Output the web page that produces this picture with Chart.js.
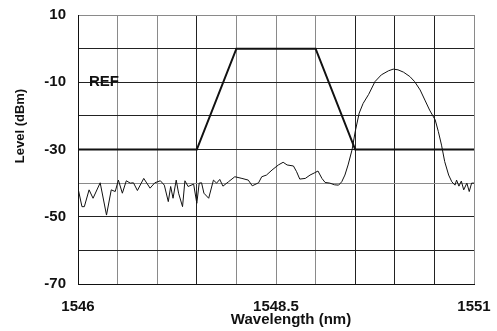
<!DOCTYPE html>
<html lang="en">
<head>
  <meta charset="UTF-8">
  <title>Filter spectrum</title>
  <script src="https://cdn.jsdelivr.net/npm/chart.js"></script>
  <style>
    body { margin: 0; background: #fff; }
    .wrap { width: 497px; height: 331px; }
  </style>
</head>
<body>
  <div class="wrap"><canvas id="grafico" width="497" height="331"></canvas></div>

  <script>
    // filter mask (thick line)
    const maskWavelength = [1546, 1547.5, 1548.0, 1549.0, 1549.5, 1551];
    const maskLevel = [-30, -30, 0, 0, -30, -30];

    // measured spectrum (thin line)
    const traceWavelength = [
      1546.00, 1546.05, 1546.08, 1546.14, 1546.19, 1546.28, 1546.36, 1546.42, 1546.47, 1546.51,
      1546.56, 1546.61, 1546.66, 1546.70, 1546.75, 1546.83, 1546.91, 1546.97, 1547.04, 1547.09,
      1547.14, 1547.17, 1547.20, 1547.24, 1547.27, 1547.32, 1547.35, 1547.39, 1547.46, 1547.50,
      1547.53, 1547.56, 1547.59, 1547.65, 1547.71, 1547.75, 1547.79, 1547.83, 1547.90, 1547.98,
      1548.07, 1548.15, 1548.20, 1548.28, 1548.32, 1548.38, 1548.45, 1548.53, 1548.59, 1548.64,
      1548.72, 1548.76, 1548.80, 1548.87, 1548.93, 1548.99, 1549.03, 1549.08, 1549.12, 1549.18,
      1549.24, 1549.29, 1549.33, 1549.37, 1549.41, 1549.46, 1549.50, 1549.55, 1549.60, 1549.67,
      1549.75, 1549.83, 1549.92, 1549.98, 1550.04, 1550.11, 1550.19, 1550.25, 1550.32, 1550.38,
      1550.44, 1550.51, 1550.55, 1550.59, 1550.63, 1550.68, 1550.72, 1550.76, 1550.78, 1550.81,
      1550.84, 1550.87, 1550.91, 1550.94, 1550.97, 1551.00
    ];
    const traceLevel = [
      -41.5, -47.0, -47.0, -42.0, -44.5, -39.9, -49.5, -42.0, -42.5, -39.1,
      -43.0, -39.3, -40.0, -39.9, -42.2, -38.6, -41.5, -39.9, -39.3, -40.6,
      -45.5, -41.0, -44.5, -39.1, -43.0, -47.0, -39.3, -41.0, -40.3, -46.0,
      -40.0, -39.9, -43.0, -44.5, -39.1, -40.0, -38.9, -40.9, -39.6, -38.1,
      -38.6, -39.1, -40.8, -39.9, -38.1, -37.6, -36.1, -34.6, -33.8, -34.6,
      -34.9, -36.6, -38.8, -38.6, -37.6, -36.9, -36.4, -38.6, -39.8, -40.0,
      -40.5, -40.6, -39.6, -37.6, -34.6, -30.1, -24.7, -19.2, -16.3, -13.6,
      -9.8, -7.8, -6.6, -6.1, -6.3, -7.0, -8.3, -9.8, -12.3, -15.3,
      -18.3, -21.2, -24.7, -28.7, -33.6, -37.6, -39.6, -40.6, -39.1, -40.9,
      -39.4, -42.0, -40.0, -42.5, -40.0, -40.0
    ];

    const xTickLabels = [1546, 1548.5, 1551];
    const yTickLabels = [10, -10, -30, -50, -70];
    const xGrayLines = [1546.5, 1547, 1548, 1548.5, 1549, 1551];
    const yGrayLines = [10, -40];

    const familia = "'Liberation Sans', Arial, sans-serif";
    const fonte = { family: familia, size: 15, weight: 'bold' };

    const pts = (xs, ys) => xs.map((x, i) => ({ x: x, y: ys[i] }));

    // texts placed by hand (axis titles are off-centre in the original)
    const textos = {
      id: 'textos',
      afterDraw(chart) {
        const ctx = chart.ctx;
        ctx.save();
        ctx.fillStyle = '#111';
        ctx.textBaseline = 'middle';
        ctx.font = 'bold 15px ' + familia;
        ctx.textAlign = 'left';
        ctx.fillText('REF', 89, 82);
        ctx.textAlign = 'center';
        ctx.fillText('Wavelength (nm)', 291, 320);
        ctx.font = 'bold 13px ' + familia;
        ctx.translate(20, 126);
        ctx.rotate(-Math.PI / 2);
        ctx.fillText('Level (dBm)', 0, 0);
        ctx.restore();
      }
    };

    new Chart(document.getElementById('grafico'), {
      type: 'line',
      data: {
        datasets: [
          {
            label: 'Mask',
            data: pts(maskWavelength, maskLevel),
            borderColor: '#111',
            borderWidth: 2,
            pointRadius: 0,
            tension: 0
          },
          {
            label: 'Spectrum',
            data: pts(traceWavelength, traceLevel),
            borderColor: '#111',
            borderWidth: 1,
            pointRadius: 0,
            tension: 0
          }
        ]
      },
      options: {
        responsive: false,
        animation: false,
        layout: { padding: { top: 15, right: 23, left: 0, bottom: 0 } },
        plugins: { legend: { display: false }, tooltip: { enabled: false } },
        scales: {
          x: {
            type: 'linear',
            min: 1546,
            max: 1551,
            afterFit: s => { s.height = 47; s.paddingLeft = 0; s.paddingRight = 0; },
            ticks: {
              stepSize: 0.5,
              autoSkip: false,
              maxRotation: 0,
              padding: 14,
              color: '#111',
              font: fonte,
              callback: v => xTickLabels.includes(v) ? String(v) : ''
            },
            grid: {
              drawTicks: false,
              color: c => xGrayLines.includes(c.tick && c.tick.value) ? '#8a8a8a' : '#222'
            },
            border: { color: '#111' }
          },
          y: {
            min: -70,
            max: 10,
            afterFit: s => { s.width = 78; s.paddingTop = 0; s.paddingBottom = 0; },
            ticks: {
              stepSize: 10,
              autoSkip: false,
              padding: 12,
              color: '#111',
              font: fonte,
              callback: v => yTickLabels.includes(v) ? String(v) : ''
            },
            grid: {
              drawTicks: false,
              color: c => yGrayLines.includes(c.tick && c.tick.value) ? '#8a8a8a' : '#222'
            },
            border: { color: '#111' }
          }
        }
      },
      plugins: [textos]
    });
  </script>
</body>
</html>
